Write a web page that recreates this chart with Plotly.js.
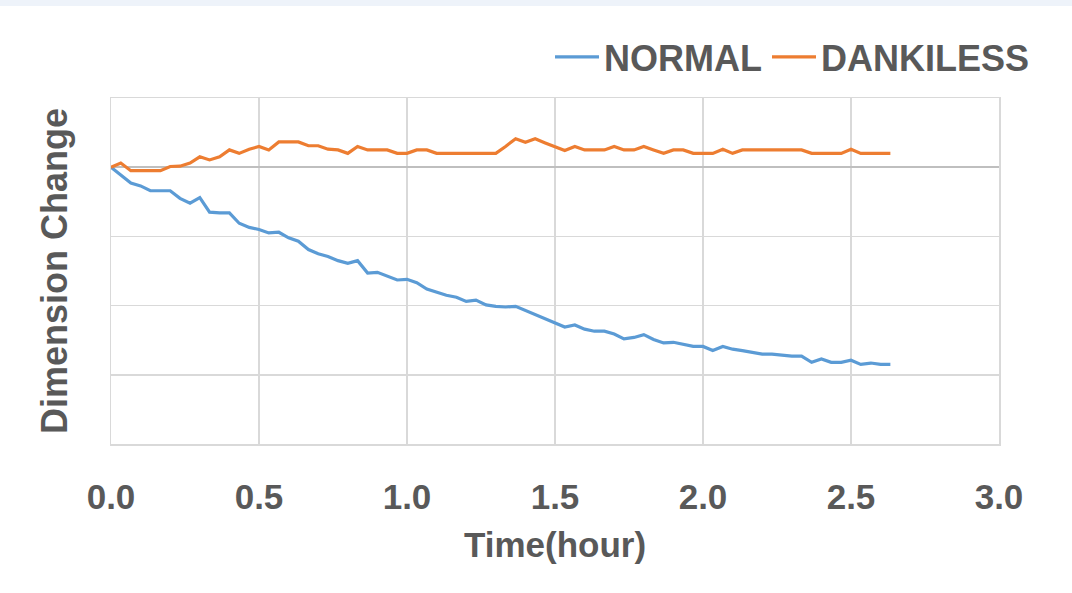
<!DOCTYPE html>
<html>
<head>
<meta charset="utf-8">
<script src="https://cdn.plot.ly/plotly-3.0.1.min.js"></script>
<style>
  html, body { margin: 0; padding: 0; background: #ffffff; }
  #band { position: absolute; left: 0; top: 0; width: 1072px; height: 6px; background: #eef3fa; z-index: 5; }
  #chart { width: 1072px; height: 593px; }
</style>
</head>
<body>
<div id="band"></div>
<div id="chart"></div>
<script>
const timeHour = [
  0.000,0.033,0.067,0.100,0.133,0.167,0.200,0.233,0.267,0.300,
  0.333,0.367,0.400,0.433,0.467,0.500,0.533,0.567,0.600,0.633,
  0.667,0.700,0.733,0.767,0.800,0.833,0.867,0.900,0.933,0.967,
  1.000,1.033,1.067,1.100,1.133,1.167,1.200,1.233,1.267,1.300,
  1.333,1.367,1.400,1.433,1.467,1.500,1.533,1.567,1.600,1.633,
  1.667,1.700,1.733,1.767,1.800,1.833,1.867,1.900,1.933,1.967,
  2.000,2.033,2.067,2.100,2.133,2.167,2.200,2.233,2.267,2.300,
  2.333,2.367,2.400,2.433,2.467,2.500,2.533,2.567,2.600,2.633
];
const normal = [
  0.00,-0.11,-0.23,-0.27,-0.34,-0.34,-0.34,-0.45,-0.52,-0.44,
  -0.65,-0.66,-0.66,-0.81,-0.87,-0.90,-0.95,-0.94,-1.02,-1.07,
  -1.19,-1.25,-1.29,-1.35,-1.39,-1.35,-1.53,-1.52,-1.57,-1.63,
  -1.62,-1.67,-1.76,-1.81,-1.85,-1.88,-1.94,-1.92,-1.99,-2.01,
  -2.02,-2.01,-2.07,-2.12,-2.18,-2.25,-2.31,-2.28,-2.34,-2.37,
  -2.37,-2.41,-2.48,-2.46,-2.42,-2.49,-2.54,-2.53,-2.56,-2.59,
  -2.59,-2.65,-2.59,-2.63,-2.65,-2.68,-2.70,-2.70,-2.72,-2.73,
  -2.73,-2.82,-2.77,-2.82,-2.82,-2.79,-2.85,-2.83,-2.85,-2.85
];
const dankiless = [
  0.00,0.06,-0.05,-0.05,-0.05,-0.05,0.01,0.015,0.06,0.15,
  0.105,0.15,0.25,0.20,0.26,0.30,0.25,0.365,0.365,0.365,
  0.31,0.31,0.26,0.25,0.20,0.30,0.25,0.25,0.25,0.20,
  0.20,0.25,0.25,0.20,0.20,0.20,0.20,0.20,0.20,0.20,
  0.30,0.41,0.36,0.41,0.35,0.29,0.24,0.30,0.25,0.25,
  0.25,0.30,0.25,0.25,0.30,0.25,0.20,0.25,0.25,0.20,
  0.20,0.20,0.26,0.20,0.25,0.25,0.25,0.25,0.25,0.25,
  0.25,0.20,0.20,0.20,0.20,0.26,0.20,0.20,0.20,0.20
];
const seriesNames = ['NORMAL', 'DANKILESS'];
const xTicks = [0, 0.5, 1.0, 1.5, 2.0, 2.5, 3.0];
const xTickText = ['0.0', '0.5', '1.0', '1.5', '2.0', '2.5', '3.0'];

const font = 'Liberation Sans, Arial, sans-serif';
const textColor = '#595959';

const traces = [
  { x: timeHour, y: normal, name: seriesNames[0], type: 'scatter', mode: 'lines',
    line: { color: '#5b9bd5', width: 3.2 } },
  { x: timeHour, y: dankiless, name: seriesNames[1], type: 'scatter', mode: 'lines',
    line: { color: '#ed7d31', width: 3.2 } }
];

const layout = {
  width: 1072, height: 593,
  paper_bgcolor: '#ffffff', plot_bgcolor: '#ffffff',
  margin: { l: 111, r: 73, t: 98, b: 149 },
  font: { family: font, color: textColor },
  showlegend: true,
  legend: {
    orientation: 'h', xref: 'container', yref: 'container',
    x: 0.9655, xanchor: 'right', y: 0.904, yanchor: 'middle',
    font: { family: font, size: 36, color: textColor, weight: 'bold' },
    itemwidth: 44, bgcolor: 'rgba(0,0,0,0)'
  },
  xaxis: {
    range: [0, 3], tickvals: xTicks, ticktext: xTickText,
    showgrid: true, gridcolor: '#d9d9d9', gridwidth: 1.5,
    zeroline: false, ticks: '',
    showline: true, mirror: true, linecolor: '#d9d9d9', linewidth: 1.5,
    tickfont: { family: font, size: 35, color: textColor, weight: 'bold' },
    ticklabelstandoff: 21,
    title: { text: 'Time(hour)', font: { family: font, size: 35, color: textColor, weight: 'bold' }, standoff: 18 }
  },
  yaxis: {
    range: [-4, 1], dtick: 1, tick0: 0,
    showticklabels: false, ticks: '',
    showgrid: true, gridcolor: '#d9d9d9', gridwidth: 1.5,
    zeroline: true, zerolinecolor: '#bfbfbf', zerolinewidth: 2,
    showline: true, mirror: true, linecolor: '#d9d9d9', linewidth: 1.5,
    title: { text: 'Dimension Change', font: { family: font, size: 36, color: textColor, weight: 'bold' }, standoff: 31 }
  }
};

Plotly.newPlot('chart', traces, layout, { displayModeBar: false, staticPlot: true });
</script>
</body>
</html>
